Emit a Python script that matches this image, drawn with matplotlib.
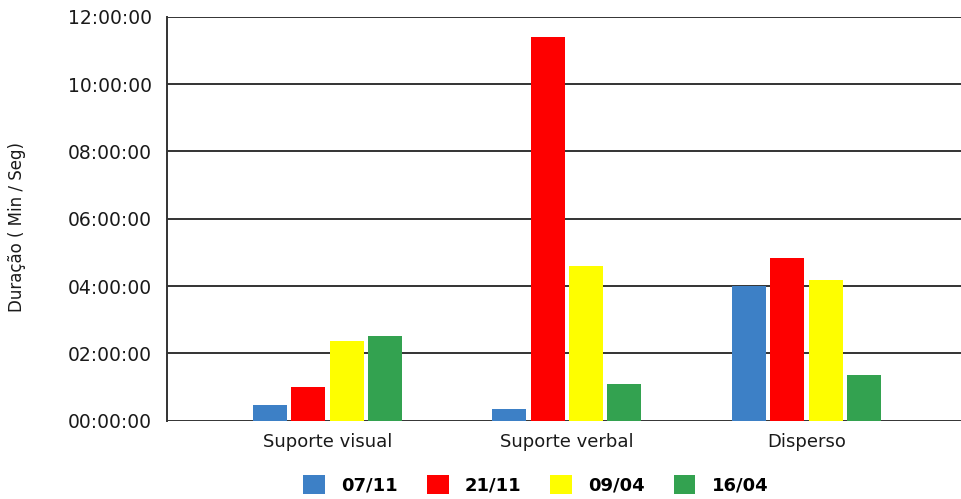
import numpy as np
import matplotlib
matplotlib.use('Agg')
import matplotlib.pyplot as plt
from matplotlib.ticker import FuncFormatter, MultipleLocator

# duration per category, in the first field of the HH:MM:SS axis
categories = ['Suporte visual', 'Suporte verbal', 'Disperso']
series_labels = ['07/11', '21/11', '09/04', '16/04']
s_0711 = [0.47, 0.34, 4.00]
s_2111 = [0.99, 11.40, 4.82]
s_0904 = [2.38, 4.59, 4.18]
s_1604 = [2.52, 1.08, 1.36]
colors = ['#3d80c6', '#fe0000', '#fefe00', '#33a250']

plt.rcParams['font.family'] = ['DejaVu Sans']

fig = plt.figure(figsize=(9.62, 4.99), dpi=100)
ax = fig.add_axes([0.1736, 0.157, 0.8264, 0.8095])

ind = np.arange(len(categories))
width = 0.142
pitch = 0.16

series = [s_0711, s_2111, s_0904, s_1604]
rects = []
for i, vals in enumerate(series):
    offs = (i - 1.5) * pitch
    r = ax.bar(ind + offs, vals, width, color=colors[i], zorder=3,
               label=series_labels[i])
    rects.append(r)

ax.set_ylim(0, 12)
ax.set_xlim(-0.67, 2.65)
ax.yaxis.set_major_locator(MultipleLocator(2))
ax.yaxis.set_major_formatter(FuncFormatter(lambda v, p: '%02d:00:00' % int(round(v))))
ax.grid(axis='y', color='#333333', linewidth=1.4, zorder=1)
ax.set_axisbelow(True)

ax.set_xticks(ind)
ax.set_xticklabels(categories, fontsize=13)
ax.tick_params(axis='both', length=0, colors='#1a1a1a')
ax.tick_params(axis='y', labelsize=13.5, pad=11)
ax.tick_params(axis='x', pad=9)

for side in ['top', 'right', 'bottom']:
    ax.spines[side].set_visible(False)
ax.spines['left'].set_color('#333333')
ax.spines['left'].set_linewidth(1.4)

fig.text(0.018, 0.545, 'Duração ( Min / Seg)', rotation=90, fontsize=12,
         ha='center', va='center', color='#1a1a1a')

leg = fig.legend(rects, series_labels, loc='center', ncol=4,
                 bbox_to_anchor=(0.557, 0.028), frameon=False,
                 prop={'weight': 'bold', 'size': 13},
                 handlelength=1.2, handleheight=1.2, columnspacing=1.6,
                 handletextpad=0.9)

fig.savefig('out.png', dpi=100)
